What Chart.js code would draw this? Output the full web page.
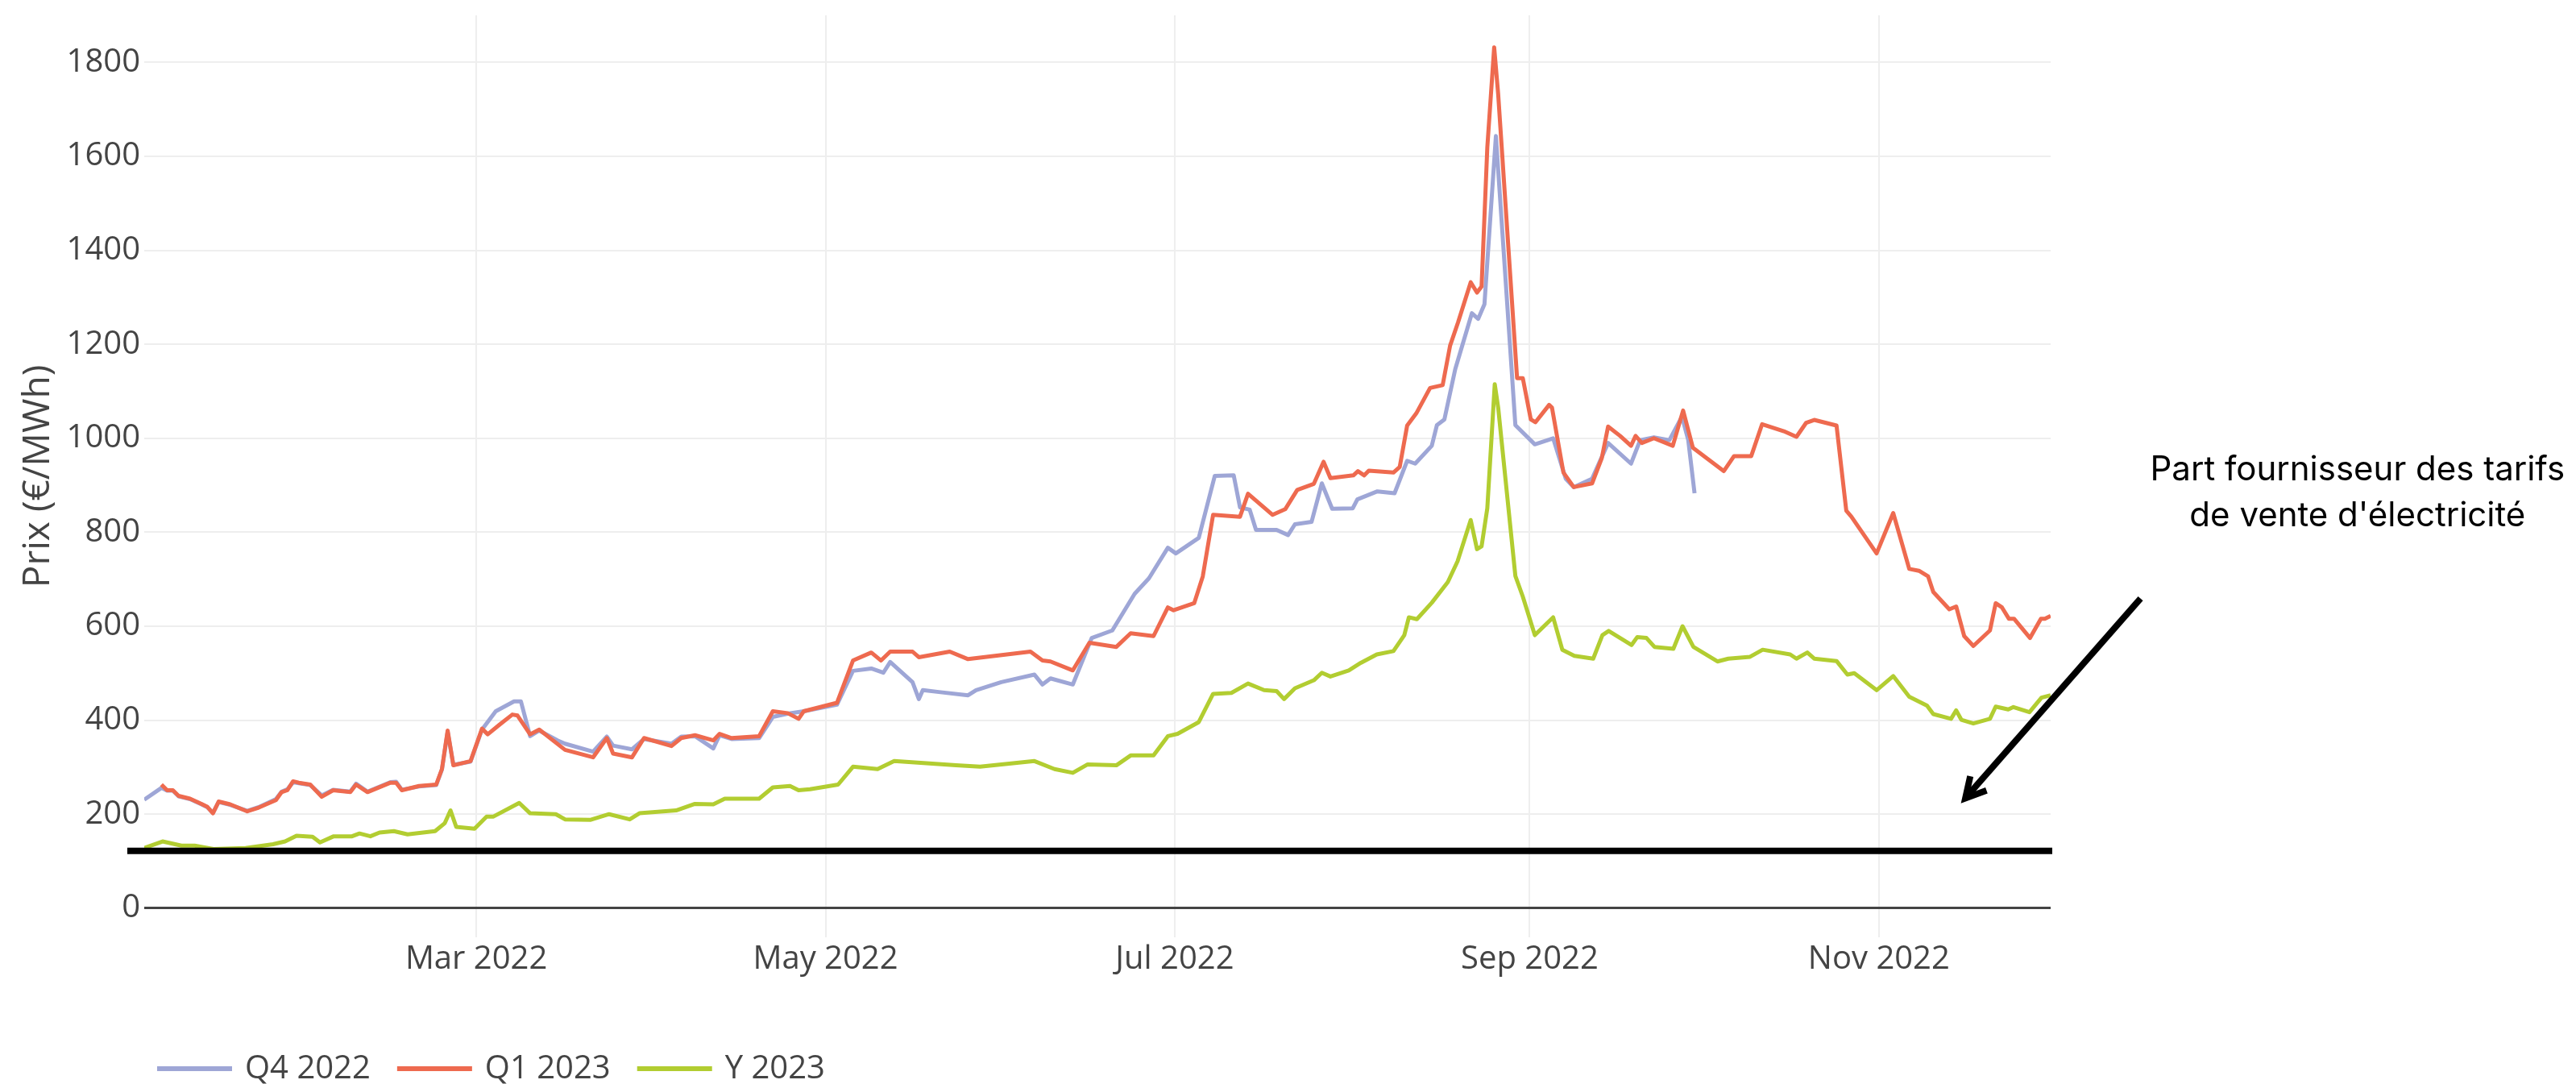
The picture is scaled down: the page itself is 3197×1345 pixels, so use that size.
<!DOCTYPE html>
<html>
<head>
<meta charset="utf-8">
<title>Prix à terme de l'électricité</title>
<script src="https://cdn.jsdelivr.net/npm/chart.js@4.4.1/dist/chart.umd.min.js"></script>
<style>
  html, body { margin: 0; padding: 0; background: #fff; }
  #wrap { width: 3197px; height: 1345px; }
</style>
</head>
<body>
<div id="wrap"><canvas id="prixChart" width="3197" height="1345"></canvas></div>
<script>
// x values are days counted from 1 Jan 2022 (1 Mar = 59, 1 May = 120 ...)
const xTickDays = [59, 120, 181, 243, 304];
const xTickLabels = ["Mar 2022", "May 2022", "Jul 2022", "Sep 2022", "Nov 2022"];
const yTickValues = [0, 200, 400, 600, 800, 1000, 1200, 1400, 1600, 1800];

// Q4 2022 (stops at contract expiry, end of Sept)
const q4Days = [1, 4, 5, 6, 7, 9, 11, 12, 13, 14, 16, 19, 21, 24, 25, 26, 27, 28, 30, 32, 34, 37, 38, 40, 44, 45, 46, 49, 52, 53, 54, 55, 58, 60, 62.4, 65.6, 66.8, 68.4, 70, 73.2, 74.5, 79.4, 81.8, 82.9, 86.2, 88.3, 93.1, 94.8, 97.2, 100.4, 101.5, 103.6, 108.4, 110.8, 113.4, 116.2, 122, 124.8, 128, 130.1, 131.3, 135.2, 136.3, 137, 139.8, 144.9, 146.3, 150.7, 156.5, 157.9, 159.3, 163.2, 166.5, 170.1, 174, 176.5, 179.8, 181.2, 185.2, 188, 191.3, 192.4, 194.1, 195.2, 198.8, 200.8, 202, 204.9, 206.7, 208.5, 212.1, 212.9, 216.4, 219.4, 221.6, 223, 225.9, 226.8, 228.1, 230, 232.9, 234, 235.1, 237.1, 240.5, 243.9, 247.1, 249.3, 250.7, 253.9, 256.7, 260.7, 262.3, 264.7, 267.4, 269.6, 270.7, 271.8];
const q4Prices = [231, 256, 250, 250, 238, 232, 221, 215, 203, 226, 220, 207, 215, 232, 248, 253, 268, 266, 262, 240, 252, 248, 265, 248, 268, 269, 252, 259, 262, 295, 375, 305, 312, 380, 419, 440, 440, 366, 378, 357, 350, 333, 365, 346, 338, 360, 350, 365, 366, 340, 368, 360, 362, 407, 414, 419, 433, 505, 510, 501, 524, 481, 445, 464, 460, 453, 464, 481, 497, 476, 489, 476, 575, 591, 669, 702, 767, 755, 788, 920, 921, 853, 848, 805, 805, 794, 817, 822, 904, 850, 851, 870, 887, 883, 952, 946, 984, 1028, 1040, 1147, 1266, 1254, 1285, 1643, 1028, 987, 1000, 914, 896, 914, 990, 946, 996, 1002, 996, 1046, 996, 883];

// Q1 2023
const q1Days = [4, 5, 6, 7, 9, 11, 12, 13, 14, 16, 19, 21, 24, 25, 26, 27, 28, 30, 32, 34, 37, 38, 40, 44, 45, 46, 49, 52, 53, 54, 55, 58, 60, 61, 63, 65.3, 66.2, 68.4, 70, 74.5, 79.4, 81.8, 82.9, 86.2, 88.3, 93.1, 94.8, 97.2, 100.4, 101.5, 103.6, 108.4, 110.8, 113.4, 115.3, 116.2, 122, 124.8, 128, 129.7, 131.3, 135.2, 136.3, 141.7, 144.9, 155.8, 157.9, 159.3, 163.2, 166.1, 170.8, 173.3, 177.3, 179.8, 180.8, 184.4, 185.9, 187.7, 192.4, 193.8, 198.1, 200.3, 202.4, 205.3, 207, 208.2, 212.2, 213, 214.1, 214.9, 219.2, 220.3, 221.6, 223.2, 225.6, 227.8, 229.1, 230.5, 232.7, 233.8, 234.6, 235.6, 236.8, 237.5, 240.8, 241.8, 243.2, 244, 246.4, 246.9, 248.9, 250.7, 253.9, 255.6, 256.7, 258.8, 260.7, 261.5, 262.6, 264.7, 268, 269.8, 271.5, 276.9, 278.7, 281.7, 283.6, 287.4, 289.6, 291.3, 292.7, 296.6, 298.3, 299.2, 303.6, 306.5, 309.3, 311, 312.6, 313.5, 316.3, 317.5, 318.9, 320.5, 323.4, 324.4, 325.5, 326.7, 327.6, 330.4, 332.3, 333, 334];
const q1Prices = [263, 251, 251, 239, 233, 222, 216, 202, 227, 221, 206, 214, 230, 247, 251, 270, 267, 263, 237, 251, 247, 263, 247, 267, 267, 251, 260, 263, 296, 378, 304, 313, 382, 370, 390, 412, 410, 370, 380, 337, 321, 362, 329, 321, 362, 345, 362, 368, 357, 371, 362, 366, 419, 415, 403, 419, 437, 527, 544, 527, 546, 546, 534, 546, 530, 546, 527, 525, 506, 565, 556, 585, 579, 640, 634, 649, 706, 837, 833, 882, 837, 849, 890, 903, 950, 915, 921, 930, 921, 931, 927, 939, 1027, 1053, 1107, 1113, 1197, 1247, 1332, 1310, 1323, 1619, 1832, 1732, 1128, 1128, 1040, 1034, 1071, 1065, 927, 896, 904, 958, 1025, 1005, 984, 1005, 990, 1000, 984, 1059, 980, 930, 962, 962, 1030, 1015, 1003, 1033, 1039, 1027, 846, 833, 755, 841, 722, 718, 706, 673, 636, 642, 579, 558, 591, 649, 640, 616, 616, 575, 616, 616, 622];

// Y 2023 (calendar year)
const y23Days = [1, 4.2, 7.5, 9.8, 13.1, 18.7, 23.5, 25.6, 27.6, 30.4, 31.7, 34.1, 37.3, 38.6, 40.5, 42.1, 44.6, 47, 51.8, 53.5, 54.5, 55.5, 58.7, 60.8, 62, 66.5, 68.4, 72.9, 74.5, 79, 82.2, 85.8, 87.5, 93.9, 97.2, 100.4, 102.4, 108.4, 110.8, 113.8, 115.3, 117.3, 122.2, 124.8, 129.1, 132, 142.8, 147, 156.5, 160, 163.2, 165.8, 170.8, 173.3, 177.3, 179.8, 181.5, 185.2, 187.7, 190.9, 193.8, 196.6, 198.8, 200.1, 202, 205.3, 206.7, 208.2, 211.4, 213.5, 216.3, 219.2, 221.1, 221.9, 223.3, 225.9, 228.7, 230.4, 232.7, 233.8, 234.6, 235.6, 236.9, 237.5, 240.5, 241.8, 243.9, 247.1, 248.7, 250.8, 254.1, 255.7, 256.8, 260.8, 261.8, 263.4, 264.8, 268.1, 269.7, 271.6, 275.8, 277.7, 281.5, 283.7, 288.5, 289.6, 291.5, 292.7, 296.6, 298.5, 299.7, 303.6, 306.5, 309.3, 312.4, 313.5, 316.6, 317.5, 318.4, 320.5, 323.4, 324.4, 326.6, 327.5, 330.3, 332.4, 334];
const y23Prices = [128, 142, 133, 133, 126, 128, 136, 142, 154, 152, 140, 153, 153, 159, 153, 161, 164, 157, 164, 181, 208, 173, 169, 195, 195, 224, 202, 200, 189, 188, 200, 189, 202, 208, 222, 221, 233, 233, 257, 260, 251, 253, 263, 301, 296, 313, 304, 301, 313, 296, 288, 306, 304, 325, 325, 366, 371, 396, 456, 458, 478, 464, 462, 445, 468, 485, 501, 493, 506, 522, 540, 547, 581, 619, 615, 650, 694, 738, 826, 764, 770, 851, 1115, 1065, 707, 663, 581, 619, 550, 537, 531, 581, 590, 560, 577, 575, 556, 552, 600, 556, 525, 531, 535, 550, 540, 531, 544, 531, 526, 497, 500, 464, 494, 450, 431, 413, 403, 421, 401, 393, 403, 429, 423, 428, 417, 448, 453];

// supplier share of the regulated tariff (€/MWh)
const tarifLevel = 122;
// annotation anchors, in chart units (day, €/MWh)
const arrowFrom = [349.7, 659];
const arrowTo = [319.1, 234];
const noteAnchor = [387.6, 911];
const noteLines = ["Part fournisseur des tarifs", "de vente d'électricité"];

function toPoints(days, prices) {
  return days.map((d, i) => ({ x: d, y: prices[i] }));
}

Chart.defaults.font.family = '"Open Sans", sans-serif';
Chart.defaults.color = "#444";

const annotations = {
  id: "annotations",
  afterDatasetsDraw(chart) {
    const { ctx, chartArea } = chart;
    const xs = chart.scales.x, ys = chart.scales.y;
    ctx.save();
    // black tariff line
    const yt = ys.getPixelForValue(tarifLevel);
    ctx.strokeStyle = "#000";
    ctx.lineWidth = 8;
    ctx.beginPath();
    ctx.moveTo(chartArea.left - 21, yt);
    ctx.lineTo(chartArea.right + 2, yt);
    ctx.stroke();

    // arrow
    const x1 = xs.getPixelForValue(arrowFrom[0]), y1 = ys.getPixelForValue(arrowFrom[1]);
    const x2 = xs.getPixelForValue(arrowTo[0]), y2 = ys.getPixelForValue(arrowTo[1]);
    ctx.lineWidth = 8;
    ctx.lineCap = "butt";
    ctx.beginPath();
    ctx.moveTo(x1, y1);
    ctx.lineTo(x2, y2);
    ctx.stroke();
    const ang = Math.atan2(y1 - y2, x1 - x2);
    const head = 28, spread = 0.5;
    ctx.lineJoin = "miter";
    ctx.beginPath();
    ctx.moveTo(x2 + head * Math.cos(ang - spread), y2 + head * Math.sin(ang - spread));
    ctx.lineTo(x2, y2);
    ctx.lineTo(x2 + head * Math.cos(ang + spread), y2 + head * Math.sin(ang + spread));
    ctx.stroke();

    // note
    ctx.fillStyle = "#000";
    ctx.font = '42px Inter, "Noto Sans", sans-serif';
    ctx.textAlign = "center";
    ctx.textBaseline = "alphabetic";
    const tx = xs.getPixelForValue(noteAnchor[0]);
    const ty = ys.getPixelForValue(noteAnchor[1]);
    noteLines.forEach((t, i) => ctx.fillText(t, tx, ty + i * 57));
    ctx.restore();
  }
};

const lineLegend = {
  id: "lineLegend",
  afterDraw(chart) {
    const ctx = chart.ctx;
    let x = 195;
    const y = 1326;
    ctx.save();
    ctx.font = '40px "Open Sans", sans-serif';
    ctx.textBaseline = "middle";
    chart.data.datasets.forEach(ds => {
      ctx.strokeStyle = ds.borderColor;
      ctx.lineWidth = 6;
      ctx.beginPath();
      ctx.moveTo(x, y);
      ctx.lineTo(x + 93, y);
      ctx.stroke();
      x += 93 + 16;
      ctx.fillStyle = "#444";
      ctx.fillText(ds.label, x, y + 1);
      x += ctx.measureText(ds.label).width + 33;
    });
    ctx.restore();
  }
};

new Chart(document.getElementById("prixChart"), {
  type: "line",
  data: {
    datasets: [
      { label: "Q4 2022", data: toPoints(q4Days, q4Prices), borderColor: "#9ea6d6", order: 3 },
      { label: "Q1 2023", data: toPoints(q1Days, q1Prices), borderColor: "#ee6a4f", order: 2 },
      { label: "Y 2023", data: toPoints(y23Days, y23Prices), borderColor: "#b2cd31", order: 1 }
    ]
  },
  options: {
    responsive: false,
    animation: false,
    devicePixelRatio: 1,
    layout: { padding: { left: 0, right: 652, top: 19, bottom: 0 } },
    elements: {
      line: { borderWidth: 5, tension: 0, fill: false, borderJoinStyle: "round" },
      point: { radius: 0, hoverRadius: 0 }
    },
    plugins: {
      legend: { display: false },
      tooltip: { enabled: false }
    },
    scales: {
      x: {
        type: "linear",
        min: 1,
        max: 334,
        border: { display: false },
        grid: { color: "#eee", lineWidth: 2, drawTicks: false },
        ticks: {
          font: { size: 40 },
          color: "#444",
          padding: 4,
          maxRotation: 0,
          autoSkip: false,
          callback: v => xTickLabels[xTickDays.indexOf(v)]
        },
        afterBuildTicks: s => { s.ticks = xTickDays.map(v => ({ value: v })); },
        afterFit: s => { s.height = 182; s.paddingLeft = 0; s.paddingRight = 0; }
      },
      y: {
        min: -62,
        max: 1900,
        border: { display: false },
        grid: {
          drawTicks: false,
          color: c => (c.tick && c.tick.value === 0 ? "#444" : "#eee"),
          lineWidth: c => (c.tick && c.tick.value === 0 ? 3 : 2)
        },
        ticks: { font: { size: 40 }, color: "#444", padding: 5, callback: v => String(v) },
        afterBuildTicks: s => { s.ticks = yTickValues.map(v => ({ value: v })); },
        afterFit: s => { s.width = 179; s.paddingTop = 0; s.paddingBottom = 0; },
        title: {
          display: true,
          text: "Prix (€/MWh)",
          color: "#444",
          font: { size: 46 },
          padding: { top: 20, bottom: 0 }
        }
      }
    }
  },
  plugins: [annotations, lineLegend]
});
</script>
</body>
</html>
